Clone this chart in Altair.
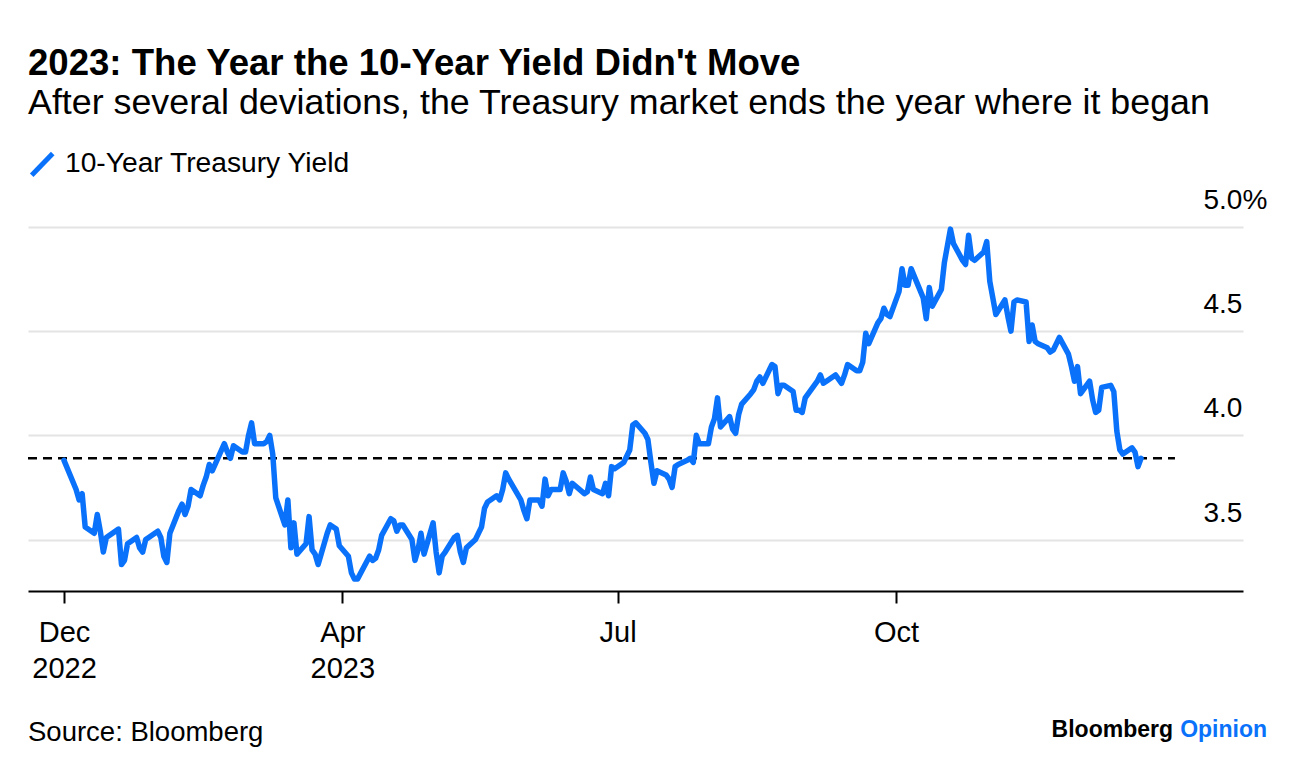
import altair as alt
import pandas as pd

# ---------------- text ----------------
TITLE = "2023: The Year the 10-Year Yield Didn't Move"
SUBTITLE = "After several deviations, the Treasury market ends the year where it began"
SERIES_NAME = "10-Year Treasury Yield"
SOURCE = "Source: Bloomberg"
BRAND = "Bloomberg"
BRAND_BLUE = "Opinion"

# ---------------- data ----------------
DATES = [
    "2022-12-30",
    "2023-01-03", "2023-01-04", "2023-01-05", "2023-01-06", "2023-01-09", "2023-01-10",
    "2023-01-11", "2023-01-12", "2023-01-13", "2023-01-17", "2023-01-18", "2023-01-19",
    "2023-01-20", "2023-01-23", "2023-01-24", "2023-01-25", "2023-01-26", "2023-01-27",
    "2023-01-30", "2023-01-31",
    "2023-02-01", "2023-02-02", "2023-02-03", "2023-02-06", "2023-02-07", "2023-02-08",
    "2023-02-09", "2023-02-10", "2023-02-13", "2023-02-14", "2023-02-15", "2023-02-16",
    "2023-02-17", "2023-02-21", "2023-02-22", "2023-02-23", "2023-02-24", "2023-02-27",
    "2023-02-28",
    "2023-03-01", "2023-03-02", "2023-03-03", "2023-03-06", "2023-03-07", "2023-03-08",
    "2023-03-09", "2023-03-10", "2023-03-13", "2023-03-14", "2023-03-15", "2023-03-16",
    "2023-03-17", "2023-03-20", "2023-03-21", "2023-03-22", "2023-03-23", "2023-03-24",
    "2023-03-27", "2023-03-28", "2023-03-29", "2023-03-30", "2023-03-31",
    "2023-04-03", "2023-04-04", "2023-04-05", "2023-04-06", "2023-04-10", "2023-04-11",
    "2023-04-12", "2023-04-13", "2023-04-14", "2023-04-17", "2023-04-18", "2023-04-19",
    "2023-04-20", "2023-04-21", "2023-04-24", "2023-04-25", "2023-04-26", "2023-04-27",
    "2023-04-28",
    "2023-05-01", "2023-05-02", "2023-05-03", "2023-05-04", "2023-05-05", "2023-05-08",
    "2023-05-09", "2023-05-10", "2023-05-11", "2023-05-12", "2023-05-15", "2023-05-16",
    "2023-05-17", "2023-05-18", "2023-05-19", "2023-05-22", "2023-05-23", "2023-05-24",
    "2023-05-25", "2023-05-26", "2023-05-30", "2023-05-31",
    "2023-06-01", "2023-06-02", "2023-06-05", "2023-06-06", "2023-06-07", "2023-06-08",
    "2023-06-09", "2023-06-12", "2023-06-13", "2023-06-14", "2023-06-15", "2023-06-16",
    "2023-06-20", "2023-06-21", "2023-06-22", "2023-06-23", "2023-06-26", "2023-06-27",
    "2023-06-28", "2023-06-29", "2023-06-30",
    "2023-07-03", "2023-07-05", "2023-07-06", "2023-07-07", "2023-07-10", "2023-07-11",
    "2023-07-12", "2023-07-13", "2023-07-14", "2023-07-17", "2023-07-18", "2023-07-19",
    "2023-07-20", "2023-07-21", "2023-07-24", "2023-07-25", "2023-07-26", "2023-07-27",
    "2023-07-28", "2023-07-31",
    "2023-08-01", "2023-08-02", "2023-08-03", "2023-08-04", "2023-08-07", "2023-08-08",
    "2023-08-09", "2023-08-10", "2023-08-11", "2023-08-14", "2023-08-15", "2023-08-16",
    "2023-08-17", "2023-08-18", "2023-08-21", "2023-08-22", "2023-08-23", "2023-08-24",
    "2023-08-25", "2023-08-28", "2023-08-29", "2023-08-30", "2023-08-31",
    "2023-09-01", "2023-09-05", "2023-09-06", "2023-09-07", "2023-09-08", "2023-09-11",
    "2023-09-12", "2023-09-13", "2023-09-14", "2023-09-15", "2023-09-18", "2023-09-19",
    "2023-09-20", "2023-09-21", "2023-09-22", "2023-09-25", "2023-09-26", "2023-09-27",
    "2023-09-28", "2023-09-29",
    "2023-10-02", "2023-10-03", "2023-10-04", "2023-10-05", "2023-10-06", "2023-10-10",
    "2023-10-11", "2023-10-12", "2023-10-13", "2023-10-16", "2023-10-17", "2023-10-18",
    "2023-10-19", "2023-10-20", "2023-10-23", "2023-10-24", "2023-10-25", "2023-10-26",
    "2023-10-27", "2023-10-30", "2023-10-31",
    "2023-11-01", "2023-11-02", "2023-11-03", "2023-11-06", "2023-11-07", "2023-11-08",
    "2023-11-09", "2023-11-10", "2023-11-13", "2023-11-14", "2023-11-15", "2023-11-16",
    "2023-11-17", "2023-11-20", "2023-11-21", "2023-11-22", "2023-11-24", "2023-11-27",
    "2023-11-28", "2023-11-29", "2023-11-30",
    "2023-12-01", "2023-12-04", "2023-12-05", "2023-12-06", "2023-12-07", "2023-12-08",
    "2023-12-11", "2023-12-12", "2023-12-13", "2023-12-14", "2023-12-15", "2023-12-18",
    "2023-12-19", "2023-12-20", "2023-12-21",
]

YIELDS = [
    3.88,
    3.74, 3.69, 3.72, 3.56, 3.53, 3.62,
    3.54, 3.44, 3.51, 3.55, 3.38, 3.40,
    3.48, 3.51, 3.46, 3.44, 3.50, 3.51,
    3.54, 3.51,
    3.42, 3.39, 3.53, 3.64, 3.67, 3.62,
    3.66, 3.74, 3.71, 3.76, 3.80, 3.86,
    3.83, 3.96, 3.92, 3.89, 3.95, 3.92,
    3.92,
    4.00, 4.06, 3.96, 3.96, 3.97, 4.00,
    3.91, 3.70, 3.57, 3.69, 3.46, 3.58,
    3.43, 3.48, 3.61, 3.45, 3.43, 3.38,
    3.53, 3.57, 3.56, 3.55, 3.47,
    3.42, 3.34, 3.31, 3.31, 3.42, 3.40,
    3.41, 3.45, 3.52, 3.60, 3.59, 3.54,
    3.57, 3.57, 3.50, 3.40, 3.45, 3.53,
    3.43,
    3.58, 3.44, 3.34, 3.42, 3.44, 3.51,
    3.52, 3.44, 3.39, 3.46, 3.50, 3.53,
    3.56, 3.65, 3.68, 3.71, 3.69, 3.74,
    3.82, 3.79, 3.69, 3.64,
    3.60, 3.69, 3.69, 3.66, 3.79, 3.71,
    3.74, 3.74, 3.82, 3.78, 3.72, 3.77,
    3.72, 3.73, 3.80, 3.74, 3.72, 3.77,
    3.71, 3.85, 3.84,
    3.87, 3.93, 4.05, 4.06, 4.01, 3.98,
    3.87, 3.77, 3.83, 3.81, 3.79, 3.75,
    3.85, 3.86, 3.88, 3.89, 3.87, 4.00,
    3.96, 3.96,
    4.04, 4.08, 4.18, 4.04, 4.09, 4.03,
    4.01, 4.10, 4.15, 4.20, 4.22, 4.26,
    4.28, 4.25, 4.34, 4.33, 4.20, 4.24,
    4.24, 4.21, 4.12, 4.12, 4.11,
    4.18, 4.26, 4.29, 4.25, 4.26, 4.29,
    4.27, 4.25, 4.29, 4.34, 4.31, 4.31,
    4.35, 4.49, 4.44, 4.54, 4.56, 4.61,
    4.58, 4.57,
    4.69, 4.80, 4.72, 4.72, 4.80, 4.66,
    4.56, 4.71, 4.62, 4.70, 4.83, 4.91,
    4.99, 4.92, 4.84, 4.82, 4.96, 4.85,
    4.84, 4.88, 4.93,
    4.74, 4.66, 4.58, 4.65, 4.57, 4.50,
    4.64, 4.65, 4.64, 4.45, 4.53, 4.45,
    4.44, 4.42, 4.40, 4.41, 4.47, 4.39,
    4.33, 4.26, 4.33,
    4.20, 4.26, 4.17, 4.11, 4.12, 4.23,
    4.24, 4.21, 4.02, 3.93, 3.91, 3.94,
    3.92, 3.85, 3.89,
]

# dashed reference level (where the year began)
REFERENCE_LEVEL = 3.89
REFERENCE_SPAN = ["2022-12-18T02:24:00Z", "2024-01-01T05:00:00Z"]

# axes
X_DOMAIN = ["2022-12-18T02:24:00Z", "2024-01-23T16:48:00Z"]
X_TICK_DATES = ["2022-12-30", "2023-04-01", "2023-07-01", "2023-10-01"]
X_TICK_MONTHS = ["Dec", "Apr", "Jul", "Oct"]
X_TICK_YEARS = ["2022", "2023", "", ""]
Y_DOMAIN = [3.253, 5.0]
Y_TICKS = [3.5, 4.0, 4.5, 5.0]

assert len(DATES) == len(YIELDS)

# ---------------- styling ----------------
FONT = "Liberation Sans"
BLUE = "#0a72fa"
W, H = 1215, 364


def ms(s):
    t = pd.Timestamp(s)
    if t.tzinfo is None:
        t = t.tz_localize("UTC")
    return int(t.value // 10**6)


x_domain_ms = [ms(d) for d in X_DOMAIN]
x_tick_ms = [ms(d) for d in X_TICK_DATES]

# label expression built from the tick label lists
parts = []
for d, m, y in zip(X_TICK_DATES, X_TICK_MONTHS, X_TICK_YEARS):
    mi = pd.Timestamp(d).month - 1
    lab = f"['{m}', '{y}']" if y else f"'{m}'"
    parts.append((mi, lab))
expr = "''"
for mi, lab in reversed(parts):
    expr = f"utcmonth(datum.value) == {mi} ? {lab} : ({expr})"

df = pd.DataFrame({"date": DATES, "yield": YIELDS})
ref_df = pd.DataFrame({"start": [REFERENCE_SPAN[0]], "end": [REFERENCE_SPAN[1]],
                       "level": [REFERENCE_LEVEL]})

x_enc = alt.X(
    "date:T",
    scale=alt.Scale(type="utc", domain=x_domain_ms),
    axis=alt.Axis(
        values=x_tick_ms, labelExpr=expr, title=None, grid=False,
        domainColor="#000000", domainWidth=2,
        tickColor="#000000", tickWidth=2, tickSize=12,
        labelFont=FONT, labelFontSize=29, labelColor="#000000",
        labelPadding=15, labelBaseline="top", labelLineHeight=36,
        labelAlign="center", labelOverlap=False, labelFlush=False,
    ),
)
y_enc = alt.Y(
    "yield:Q",
    scale=alt.Scale(domain=Y_DOMAIN, nice=False, zero=False),
    axis=alt.Axis(
        orient="right", values=Y_TICKS, title=None,
        labelExpr="datum.value == 5 ? '5.0%' : format(datum.value, '.1f')",
        grid=True, gridColor="#e4e4e4", gridWidth=2,
        domain=False, ticks=False,
        labelFont=FONT, labelFontSize=28, labelColor="#000000",
        labelAlign="left", labelBaseline="middle",
        labelPadding=-40, labelOffset=-26.5,
        labelBound=False, labelOverlap=False, labelFlush=False,
    ),
)

line = alt.Chart(df).mark_line(color=BLUE, strokeWidth=5.5, strokeJoin="round",
                               strokeCap="round", clip=False).encode(x=x_enc, y=y_enc)

ref = alt.Chart(ref_df).mark_rule(color="#000000", strokeWidth=2.5, strokeDash=[9, 6]).encode(
    x=alt.X("start:T"), x2="end:T", y=alt.Y("level:Q")
)


def text_layer(value, x, y, size, weight="normal", color="#000000", align="left"):
    return alt.Chart(pd.DataFrame({"t": [value]})).mark_text(
        align=align, baseline="alphabetic", font=FONT, fontSize=size,
        fontWeight=weight, color=color,
    ).encode(x=alt.value(x), y=alt.value(y), text="t:N")


title = text_layer(TITLE, 0, -151.7, 36.6, "bold")
subtitle = text_layer(SUBTITLE, 0, -112.7, 35.8)
legend_text = text_layer(SERIES_NAME, 37, -55, 28.2)
legend_mark = alt.Chart(pd.DataFrame({"name": [SERIES_NAME]})).mark_rule(
    color=BLUE, strokeWidth=5, strokeCap="butt"
).encode(x=alt.value(3.7), x2=alt.value(24.7), y=alt.value(-51.7), y2=alt.value(-73.4))
source = text_layer(SOURCE, 0, 514.3, 27.5)
brand = text_layer(BRAND, 1145, 510.3, 23, "bold", align="right")
brand_blue = text_layer(BRAND_BLUE, 1239, 510.3, 23, "bold", color=BLUE, align="right")

chart = alt.layer(
    ref, line, title, subtitle, legend_mark, legend_text, source, brand, brand_blue
).properties(
    width=W, height=H,
    autosize=alt.AutoSizeParams(type="none"),
    padding={"left": 20, "top": 219, "right": 45, "bottom": 165},
    background="#ffffff",
).configure_view(stroke=None).configure_axis(labelFont=FONT)

chart.save("out.html", embed_options={"renderer": "svg", "actions": False})
